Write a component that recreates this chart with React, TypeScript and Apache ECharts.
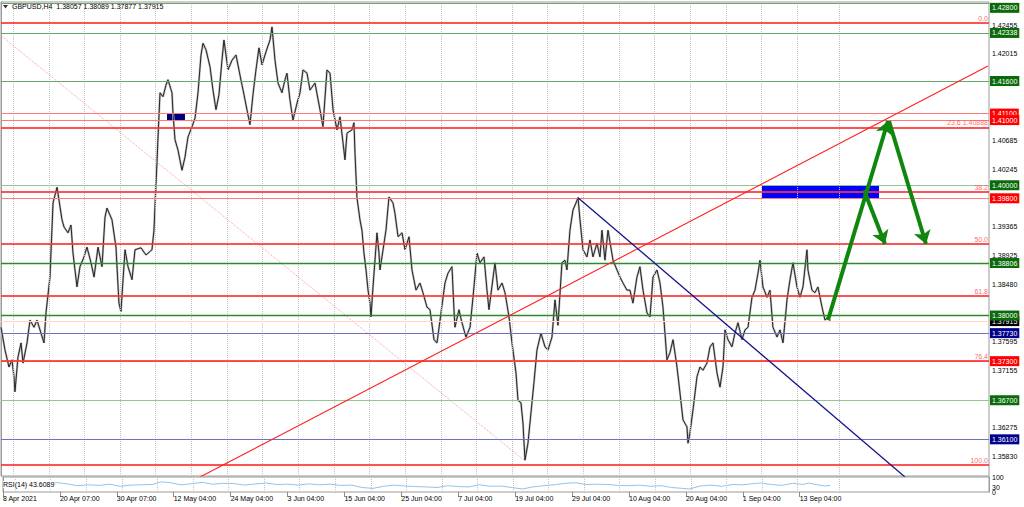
import React, { useEffect, useRef } from "react";
import * as echarts from "echarts";

const FONT = "Liberation Sans, Arial, sans-serif";
const TITLE = "GBPUSD,H4  1.38057 1.38089 1.37877 1.37915";
const RSI_TITLE = "RSI(14) 43.6089";

// x unit: trading days since 8 Apr 2021 (left edge of chart)
const X_MAX = 138.61;
const Y_MIN = 1.35537;
const Y_MAX = 1.42813;

const dateLabels = [
  "8 Apr 2021", "20 Apr 07:00", "30 Apr 07:00", "12 May 04:00", "24 May 04:00",
  "3 Jun 04:00", "15 Jun 04:00", "25 Jun 04:00", "7 Jul 04:00", "19 Jul 04:00",
  "29 Jul 04:00", "10 Aug 04:00", "20 Aug 04:00", "1 Sep 04:00", "13 Sep 04:00",
];
const dateLabelDays = [0, 8, 16, 24, 32, 40, 48, 56, 64, 72, 80, 88, 96, 104, 112];
const weekGridDays = [
  1.7, 6.7, 11.7, 16.7, 21.7, 26.7, 31.7, 36.7, 41.7, 46.7, 51.7, 56.7, 61.7, 66.7,
  71.7, 76.7, 81.7, 86.7, 91.7, 96.7, 101.7, 106.7, 111.7, 117.6,
];
const priceTicks = [
  1.42455, 1.42015, 1.41575, 1.4112, 1.40685, 1.40245, 1.39805, 1.39365, 1.38925,
  1.3848, 1.38035, 1.37595, 1.37155, 1.36715, 1.36275, 1.3583,
];
const rsiOuterTicks = [0, 100];
const rsiInnerTicks = [30, 70];

// horizontal levels
const greenLevels = [1.428, 1.42338, 1.416, 1.4, 1.367];
const keyGreenLevels = [1.38806, 1.38];
const redLevels = [1.411, 1.41, 1.398, 1.373];
const navyLevels = [1.3773, 1.361];
const lastPrice = 1.37915;
const fibHigh = 1.42488;
const fibLow = 1.35708;
const fibRatios = [0, 23.6, 38.2, 50, 61.8, 76.4, 100];
const fibLabels = ["0.0", "23.6 1.40888", "38.2", "50.0", "61.8", "76.4", "100.0"];

// drawn objects (day, price)
const redTrend = [[27.92, 1.35522], [138.47, 1.41831]];
const navyTrend = [[80.95, 1.3981], [126.82, 1.35522]];
const pinkTrend = [[0, 1.42296], [73.51, 1.35768]];
const navyZone = [[23.29, 1.41094], [25.81, 1.40987]];
const blueZone = [[106.76, 1.4], [123.18, 1.398]];
const arrowPaths = [
  [[116.02, 1.37932], [124.44, 1.40987]],
  [[121.07, 1.39928], [124.02, 1.39099]],
  [[124.58, 1.40987], [129.77, 1.39099]],
];

// price path (day, price)
const pricePath = [
  [0.00, 1.3782], [0.56, 1.3747], [1.12, 1.3721], [1.54, 1.3732], [1.82, 1.3706], [1.96, 1.3683],
  [2.38, 1.3736], [2.81, 1.3758], [3.09, 1.3727], [3.65, 1.3758], [4.07, 1.3793], [4.63, 1.3782],
  [5.05, 1.3793], [5.61, 1.3773], [6.03, 1.3758], [6.31, 1.3804], [6.87, 1.3859], [7.30, 1.3973],
  [7.86, 1.3997], [8.14, 1.3977], [8.56, 1.3947], [8.84, 1.3936], [9.40, 1.3927], [9.82, 1.3939],
  [10.10, 1.3896], [10.66, 1.3844], [11.08, 1.3875], [11.64, 1.3890], [12.06, 1.3905], [12.63, 1.3881],
  [13.05, 1.3859], [13.61, 1.3905], [14.17, 1.3875], [14.59, 1.3951], [14.87, 1.3965], [15.57, 1.3947],
  [16.13, 1.3905], [16.55, 1.3819], [16.83, 1.3806], [17.40, 1.3901], [17.82, 1.3875], [18.38, 1.3855],
  [18.80, 1.3901], [19.64, 1.3904], [20.34, 1.3893], [21.18, 1.3901], [21.46, 1.3931], [21.67, 1.3985],
  [21.88, 1.4034], [22.03, 1.4074],
  [22.31, 1.4142], [22.73, 1.4136], [23.15, 1.4154], [23.43, 1.4162], [23.99, 1.4142], [24.13, 1.4111],
  [24.41, 1.4070], [24.83, 1.4054], [25.39, 1.4023], [25.81, 1.4043], [26.23, 1.4074], [26.80, 1.4090],
  [27.22, 1.4103], [27.64, 1.4142], [28.06, 1.4200], [28.34, 1.4218], [28.76, 1.4208], [29.32, 1.4182],
  [29.74, 1.4146], [30.16, 1.4116], [30.58, 1.4139], [31.00, 1.4192], [31.28, 1.4223], [31.85, 1.4177],
  [32.41, 1.4192], [32.97, 1.4200], [33.53, 1.4169], [34.09, 1.4139], [34.65, 1.4108], [34.93, 1.4093],
  [35.35, 1.4139], [35.77, 1.4177], [36.19, 1.4211], [36.62, 1.4185], [37.18, 1.4205], [37.74, 1.4223],
  [38.02, 1.4243], [38.44, 1.4192], [38.86, 1.4157], [39.42, 1.4142], [39.84, 1.4162], [40.12, 1.4172],
  [40.54, 1.4131], [40.96, 1.4100], [41.53, 1.4126], [41.95, 1.4142], [42.37, 1.4177], [42.93, 1.4172],
  [43.35, 1.4146], [44.05, 1.4157], [44.75, 1.4116], [45.17, 1.4090], [45.73, 1.4177], [46.16, 1.4172],
  [46.58, 1.4116], [47.14, 1.4085], [47.56, 1.4105], [48.26, 1.4039], [48.54, 1.4080], [49.24, 1.4085],
  [49.52, 1.4096], [49.66, 1.4050],
  [49.94, 1.3981], [50.36, 1.3947], [50.64, 1.3931], [50.92, 1.3896], [51.21, 1.3870], [51.49, 1.3839],
  [51.77, 1.3819], [51.91, 1.3798], [52.19, 1.3844], [52.75, 1.3927], [53.03, 1.3896], [53.17, 1.3870],
  [54.01, 1.3931], [54.43, 1.3982], [54.99, 1.3973], [55.27, 1.3957], [55.70, 1.3921], [56.26, 1.3927],
  [56.68, 1.3901], [57.24, 1.3921], [57.66, 1.3870], [58.22, 1.3839], [58.78, 1.3850], [59.20, 1.3835],
  [59.76, 1.3813], [60.18, 1.3809], [60.75, 1.3763], [61.17, 1.3758], [61.73, 1.3804], [62.29, 1.3850],
  [62.71, 1.3865], [63.27, 1.3875], [63.55, 1.3809], [63.69, 1.3782], [64.25, 1.3809], [64.67, 1.3789],
  [65.23, 1.3767], [65.80, 1.3782], [66.22, 1.3828], [66.78, 1.3896], [67.20, 1.3881], [67.76, 1.3890],
  [68.18, 1.3839], [68.46, 1.3809], [69.30, 1.3881], [69.72, 1.3839], [70.29, 1.3850], [70.71, 1.3835],
  [71.27, 1.3798], [71.69, 1.3758], [72.25, 1.3712], [72.53, 1.3670], [72.95, 1.3666], [73.23, 1.3635],
  [73.51, 1.3578], [73.93, 1.3604], [74.21, 1.3635], [74.77, 1.3697], [75.19, 1.3747], [75.75, 1.3773],
  [76.32, 1.3752], [76.74, 1.3747], [77.30, 1.3767], [77.72, 1.3824], [78.14, 1.3785],
  [78.70, 1.3881], [79.12, 1.3885], [79.40, 1.3870], [79.82, 1.3931], [80.25, 1.3962], [80.67, 1.3973],
  [80.95, 1.3981], [81.23, 1.3947], [81.65, 1.3901], [82.21, 1.3890], [82.63, 1.3916], [83.05, 1.3890],
  [83.61, 1.3911], [84.03, 1.3890], [84.31, 1.3931], [84.73, 1.3885], [85.16, 1.3931], [85.86, 1.3885],
  [86.42, 1.3870], [86.84, 1.3859], [87.26, 1.3850], [87.82, 1.3839], [88.24, 1.3839], [88.66, 1.3819],
  [89.22, 1.3859], [89.64, 1.3875], [90.07, 1.3839], [90.63, 1.3804], [91.05, 1.3798], [91.47, 1.3859],
  [92.03, 1.3870], [92.45, 1.3850], [92.87, 1.3813], [93.15, 1.3773], [93.43, 1.3732], [93.85, 1.3743],
  [94.28, 1.3763], [94.84, 1.3721], [95.26, 1.3681], [95.68, 1.3640], [96.24, 1.3629], [96.38, 1.3604],
  [96.66, 1.3620], [97.08, 1.3655], [97.64, 1.3706], [98.06, 1.3721], [98.48, 1.3716], [99.04, 1.3727],
  [99.47, 1.3752], [99.89, 1.3758], [100.45, 1.3712], [100.87, 1.3690], [101.29, 1.3721], [101.57, 1.3778],
  [101.99, 1.3763], [102.55, 1.3752], [102.97, 1.3773], [103.39, 1.3789], [103.96, 1.3763], [104.38, 1.3778],
  [104.80, 1.3782], [105.36, 1.3828], [105.78, 1.3839], [106.20, 1.3865], [106.48, 1.3885], [106.90, 1.3844],
  [107.46, 1.3828], [107.88, 1.3839], [108.30, 1.3782], [108.87, 1.3767], [109.29, 1.3778], [109.71, 1.3758],
  [110.27, 1.3824], [110.69, 1.3855], [111.11, 1.3881], [111.67, 1.3844], [112.09, 1.3828], [112.51, 1.3844],
  [113.07, 1.3901], [113.21, 1.3870], [113.77, 1.3839], [114.19, 1.3835], [114.61, 1.3844], [115.18, 1.3813],
  [115.60, 1.3793], [116.02, 1.3798], [116.30, 1.3792],
];

const rsiPath = [
  [0.5, 40], [1.5, 30], [3, 38], [4.5, 45], [6, 50], [7.5, 62], [8.5, 58], [9.5, 50], [10.5, 42],
  [12, 48], [13.5, 44], [15, 52], [16.5, 38], [18, 46], [19.5, 48], [21, 50], [22.3, 68], [23.5, 62],
  [25, 48], [26.5, 55], [28, 64], [29.5, 52], [31, 58], [32.5, 56], [34, 46], [35.5, 54], [37, 60],
  [38.5, 50], [40, 52], [41.5, 46], [43, 54], [44.5, 48], [46, 52], [47.5, 44], [49, 46], [50.5, 30],
  [52, 24], [53.5, 38], [55, 46], [56.5, 40], [58, 36], [59.5, 34], [61, 30], [62.5, 42], [64, 36],
  [65.5, 34], [67, 48], [68.5, 38], [70, 40], [71.5, 30], [73, 20], [74.5, 34], [76, 42], [77.5, 48],
  [79, 58], [80.5, 62], [82, 50], [83.5, 52], [85, 50], [86.5, 44], [88, 42], [89.5, 46], [91, 38],
  [92.5, 42], [94, 30], [95.5, 24], [96.5, 20], [98, 40], [99.5, 46], [101, 38], [102.5, 50], [104, 48],
  [105.5, 56], [106.5, 60], [108, 50], [109.5, 44], [111, 58], [112.5, 50], [113.2, 60], [114.5, 48],
  [115.5, 40], [116.3, 43.6],
];

const BOX_GREEN = "#0b6b0b";
const BOX_RED = "#ff0000";
const BOX_NAVY = "#00008b";

function boxLabel(value: number, bg: string) {
  return {
    show: true,
    position: "end",
    distance: 1,
    formatter: value.toFixed(5),
    color: "#ffffff",
    backgroundColor: bg,
    padding: [1, 2, 1, 2],
    fontSize: 7,
    lineHeight: 8,
    fontFamily: FONT,
  };
}

function levelItem(value: number, color: string, width: number, bg: string, extra: any = {}) {
  const label: any = { ...boxLabel(value, bg), ...extra };
  return { yAxis: value, lineStyle: { color, width, type: "solid" }, label };
}

function rsiAxis(ticks: number[]) {
  return {
    gridIndex: 1, type: "value", position: "right", min: 0, max: 100,
    axisLine: { show: true, lineStyle: { color: "#9a9a9a" } },
    axisTick: { show: false },
    axisLabel: {
      show: true,
      customValues: ticks,
      formatter: (v: number) => String(v),
      margin: 3,
      fontSize: 7,
      color: "#000",
      fontFamily: FONT,
      hideOverlap: false,
      showMinLabel: true,
      showMaxLabel: true,
    },
    splitLine: { show: false },
  };
}

export default function App() {
  const ref = useRef<HTMLDivElement>(null);

  useEffect(() => {
    if (!ref.current) return;
    const chart = echarts.init(ref.current, undefined, { renderer: "svg" });

    const weekLines = weekGridDays.map((d) => ({
      xAxis: d,
      lineStyle: { color: "#c2c2c2", type: "dotted", width: 1 },
      label: { show: false },
    }));

    const fibItems = fibRatios.map((r, i) => ({
      yAxis: fibHigh - (r / 100) * (fibHigh - fibLow),
      lineStyle: { color: "#ff3434", width: 2, opacity: 0.85, type: "solid" },
      label: {
        show: true,
        position: "insideEndTop",
        distance: 1,
        formatter: fibLabels[i],
        color: "#ff4a4a",
        fontSize: 7,
        fontFamily: FONT,
      },
    }));

    const levelItems: any[] = [];
    greenLevels.forEach((v, i) =>
      levelItems.push(
        levelItem(v, i < 3 ? "#6aa66a" : "#93c493", 1, BOX_GREEN, i === 0 ? { verticalAlign: "top" } : {})
      )
    );
    redLevels.forEach((v) => levelItems.push(levelItem(v, "#ff7a7a", 1, BOX_RED)));
    navyLevels.forEach((v) => levelItems.push(levelItem(v, "#7070c0", 1, BOX_NAVY)));
    levelItems.push(levelItem(lastPrice, "#ffd9c4", 1, "#000000"));
    keyGreenLevels.forEach((v) => levelItems.push(levelItem(v, "#2c8a2c", 1.3, BOX_GREEN)));

    const option: any = {
      animation: false,
      textStyle: { fontFamily: FONT },
      grid: [
        { left: 1, right: 35, top: 2, height: 474, show: true, borderColor: "#9a9a9a", borderWidth: 1 },
        { left: 1, right: 35, top: 477, height: 15, show: true, borderColor: "#9a9a9a", borderWidth: 1 },
      ],
      xAxis: [
        {
          gridIndex: 0, type: "value", min: 0, max: X_MAX,
          axisLine: { show: false }, axisTick: { show: false }, axisLabel: { show: false }, splitLine: { show: false },
        },
        {
          gridIndex: 1, type: "value", min: 0, max: X_MAX, position: "bottom",
          axisLine: { show: false },
          axisTick: { show: true, customValues: dateLabelDays, length: 5, lineStyle: { color: "#8a8a8a" } },
          axisLabel: {
            show: true,
            customValues: dateLabelDays,
            formatter: (v: number) => {
              const i = dateLabelDays.findIndex((d) => Math.abs(d - v) < 0.01);
              return i >= 0 ? dateLabels[i] : "";
            },
            align: "left",
            margin: 3,
            fontSize: 7,
            color: "#000",
            fontFamily: FONT,
            hideOverlap: false,
            showMinLabel: true,
          },
          splitLine: { show: false },
        },
      ],
      yAxis: [
        {
          gridIndex: 0, type: "value", position: "right", min: Y_MIN, max: Y_MAX, scale: true,
          axisLine: { show: true, lineStyle: { color: "#9a9a9a" } },
          axisTick: { show: false },
          axisLabel: {
            show: true,
            customValues: priceTicks,
            formatter: (v: number) => v.toFixed(5),
            margin: 3,
            fontSize: 7,
            color: "#000",
            fontFamily: FONT,
            hideOverlap: false,
          },
          splitLine: { show: false },
        },
        rsiAxis(rsiOuterTicks),
        rsiAxis(rsiInnerTicks),
      ],
      series: [
        {
          name: "halo",
          type: "line",
          xAxisIndex: 0,
          yAxisIndex: 0,
          data: pricePath,
          showSymbol: false,
          symbol: "none",
          silent: true,
          lineStyle: { color: "#bdbdbd", width: 2.2 },
          z: 2,
          markArea: {
            silent: true,
            data: [
              [
                { xAxis: navyZone[0][0], yAxis: navyZone[0][1], itemStyle: { color: "#000080" } },
                { xAxis: navyZone[1][0], yAxis: navyZone[1][1] },
              ],
              [
                { xAxis: blueZone[0][0], yAxis: blueZone[0][1], itemStyle: { color: "#0000ff" } },
                { xAxis: blueZone[1][0], yAxis: blueZone[1][1] },
              ],
            ],
          },
          markLine: {
            silent: true,
            symbol: ["none", "none"],
            precision: 5,
            data: [...weekLines, ...levelItems, ...fibItems],
          },
        },
        {
          name: "GBPUSD",
          type: "line",
          xAxisIndex: 0,
          yAxisIndex: 0,
          data: pricePath,
          showSymbol: false,
          symbol: "none",
          silent: true,
          lineStyle: { color: "#262626", width: 1 },
          z: 3,
        },
        {
          name: "pink",
          type: "line",
          xAxisIndex: 0,
          yAxisIndex: 0,
          data: pinkTrend,
          showSymbol: false,
          symbol: "none",
          silent: true,
          lineStyle: { color: "#ff9a9a", width: 1, type: "dotted" },
          z: 4,
        },
        {
          name: "redTrend",
          type: "line",
          xAxisIndex: 0,
          yAxisIndex: 0,
          data: redTrend,
          showSymbol: false,
          symbol: "none",
          silent: true,
          lineStyle: { color: "#ff2020", width: 1.1 },
          z: 5,
        },
        {
          name: "navyTrend",
          type: "line",
          xAxisIndex: 0,
          yAxisIndex: 0,
          data: navyTrend,
          showSymbol: false,
          symbol: "none",
          silent: true,
          lineStyle: { color: "#14148a", width: 1.3 },
          z: 5,
        },
        {
          name: "arrows",
          type: "lines",
          coordinateSystem: "cartesian2d",
          xAxisIndex: 0,
          yAxisIndex: 0,
          silent: true,
          symbol: ["none", "arrow"],
          symbolSize: 13,
          itemStyle: { color: "#0f870f" },
          lineStyle: { color: "#0f870f", width: 4, opacity: 1, curveness: 0 },
          data: arrowPaths.map((c) => ({ coords: c })),
          z: 8,
        },
        {
          name: "RSI",
          type: "line",
          xAxisIndex: 1,
          yAxisIndex: 1,
          data: rsiPath,
          showSymbol: false,
          symbol: "none",
          silent: true,
          lineStyle: { color: "#8cc4f0", width: 1 },
          markLine: {
            silent: true,
            symbol: ["none", "none"],
            data: weekLines,
          },
        },
      ],
      graphic: [
        {
          type: "polygon",
          shape: { points: [[3, 5], [8, 5], [5.5, 8.5]] },
          style: { fill: "#333" },
          z: 100,
        },
        {
          type: "text",
          left: 12,
          top: 3,
          style: { text: TITLE, fontSize: 7, fontFamily: FONT, fill: "#000" },
          z: 100,
        },
        {
          type: "text",
          left: 3,
          top: 481,
          style: {
            text: RSI_TITLE,
            fontSize: 7,
            fontFamily: FONT,
            fill: "#000",
            backgroundColor: "#fff",
          },
          z: 100,
        },
      ],
    };

    chart.setOption(option);
    return () => chart.dispose();
  }, []);

  return (
    <div
      ref={ref}
      style={{ position: "absolute", left: 0, top: 0, width: 1024, height: 507, background: "#fff" }}
    />
  );
}
